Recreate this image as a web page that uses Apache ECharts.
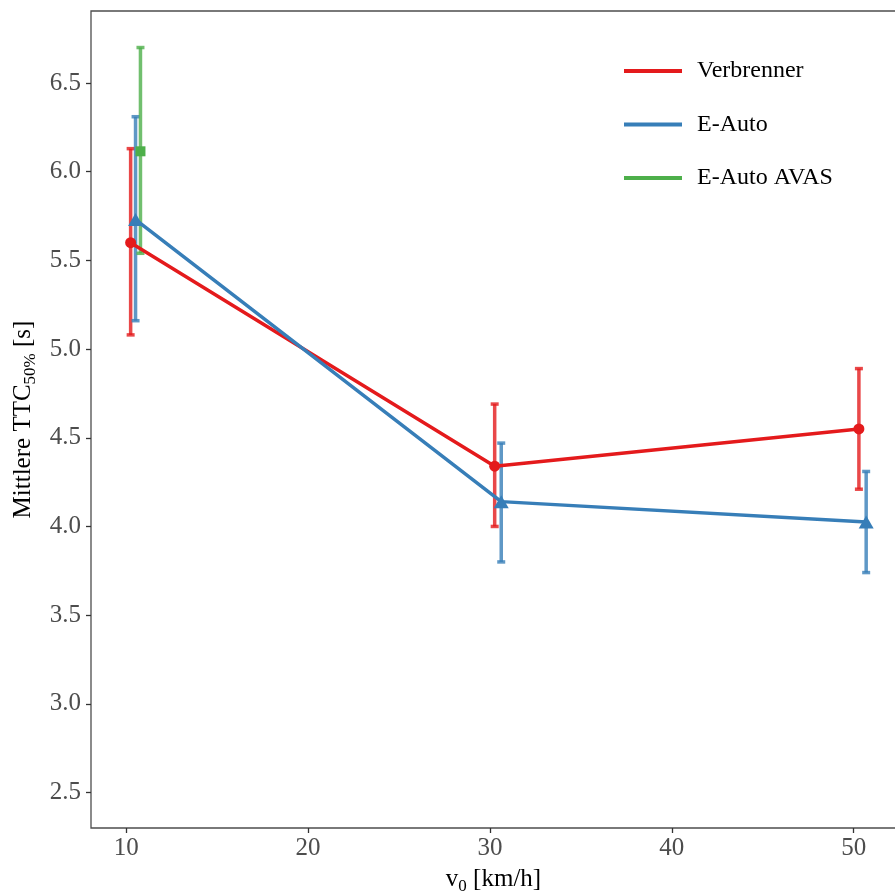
<!DOCTYPE html>
<html>
<head>
<meta charset="utf-8">
<script src="https://cdn.jsdelivr.net/npm/echarts@6/dist/echarts.min.js"></script>
<style>
  html, body { margin: 0; padding: 0; background: #fff; }
  #chart { width: 895px; height: 893px; }
</style>
</head>
<body>
<div id="chart"></div>
<script>
// data
const seriesNames = ['Verbrenner', 'E-Auto', 'E-Auto AVAS']

const xVerb = [10.24, 30.26, 50.29]
const yVerb = [5.60, 4.34, 4.55]
const loVerb = [5.08, 4.00, 4.21]
const hiVerb = [6.13, 4.69, 4.89]

const xEAuto = [10.51, 30.62, 50.69]
const yEAuto = [5.73, 4.14, 4.025]
const loEAuto = [5.16, 3.80, 3.74]
const hiEAuto = [6.31, 4.47, 4.31]

const xAvas = [10.78]
const yAvas = [6.115]
const loAvas = [5.54]
const hiAvas = [6.70]

const xTicks = [10, 20, 30, 40, 50]
const yTicks = [2.5, 3.0, 3.5, 4.0, 4.5, 5.0, 5.5, 6.0, 6.5]

const colors = ['#E41A1C', '#377EB8', '#4DAF4A']
const font = '"Liberation Serif", "DejaVu Serif", serif'

function zip2(xs, ys) { return xs.map((x, i) => [x, ys[i]]) }
function zip3(xs, lo, hi) { return xs.map((x, i) => [x, lo[i], hi[i]]) }

function errorItem(params, api) {
    const x = api.value(0)
    const lo = api.coord([x, api.value(1)])
    const hi = api.coord([x, api.value(2)])
    const w = 4
    const style = { stroke: api.visual('color'), lineWidth: 3.5, opacity: 0.8 }
    return {
        type: 'group',
        children: [
            { type: 'line', shape: { x1: lo[0], y1: lo[1], x2: hi[0], y2: hi[1] }, style },
            { type: 'line', shape: { x1: lo[0] - w, y1: lo[1], x2: lo[0] + w, y2: lo[1] }, style },
            { type: 'line', shape: { x1: hi[0] - w, y1: hi[1], x2: hi[0] + w, y2: hi[1] }, style }
        ]
    }
}

function errSeries(name, color, data) {
    return { name, type: 'custom', renderItem: errorItem, itemStyle: { color }, data, z: 1, silent: true }
}

function lineSeries(name, color, data, symbol, size) {
    return {
        name, type: 'line', data, symbol, symbolSize: size,
        itemStyle: { color }, lineStyle: { color, width: 3.5 }, z: 3, silent: true
    }
}

const nameStyle = {
    fontFamily: font, fontSize: 25, color: '#000', lineHeight: 28, verticalAlign: 'top',
    rich: { sub: { fontFamily: font, fontSize: 17, lineHeight: 17, padding: [12, 0, 0, 0], verticalAlign: 'top', color: '#000' } }
}

const chart = echarts.init(document.getElementById('chart'))
chart.setOption({
    animation: false,
    backgroundColor: '#fff',
    color: colors,
    grid: {
        left: 91, right: -1, top: 11, bottom: 65, outerBoundsMode: 'none',
        show: true, borderColor: '#4d4d4d', borderWidth: 1.3, backgroundColor: 'transparent'
    },
    legend: {
        orient: 'vertical', left: 619, top: 54,
        data: seriesNames.map(n => ({ name: n, icon: 'rect' })),
        itemWidth: 58, itemHeight: 4, itemGap: 29.5,
        textStyle: { fontFamily: font, fontSize: 24, color: '#000', lineHeight: 24, padding: [0, 0, 0, 10] }
    },
    xAxis: {
        type: 'value', min: 8.06, max: 52.33,
        name: 'v{sub|0} [km/h]', nameLocation: 'middle', nameGap: 37,
        nameTextStyle: nameStyle,
        splitLine: { show: false },
        axisLine: { show: false },
        axisTick: { show: true, length: 5, lineStyle: { color: '#333', width: 1.3 }, customValues: xTicks },
        axisLabel: { fontFamily: font, fontSize: 25, color: '#4d4d4d', margin: 8, customValues: xTicks }
    },
    yAxis: {
        type: 'value', min: 2.3, max: 6.906,
        name: 'Mittlere TTC{sub|50%} [s]', nameLocation: 'middle', nameGap: 68,
        nameTextStyle: nameStyle,
        splitLine: { show: false },
        axisLine: { show: false },
        axisTick: { show: true, length: 5, lineStyle: { color: '#333', width: 1.3 }, customValues: yTicks },
        axisLabel: { fontFamily: font, fontSize: 25, color: '#4d4d4d', margin: 10, customValues: yTicks, formatter: v => v.toFixed(1) }
    },
    series: [
        errSeries('Verbrenner', colors[0], zip3(xVerb, loVerb, hiVerb)),
        errSeries('E-Auto', colors[1], zip3(xEAuto, loEAuto, hiEAuto)),
        errSeries('E-Auto AVAS', colors[2], zip3(xAvas, loAvas, hiAvas)),
        lineSeries('Verbrenner', colors[0], zip2(xVerb, yVerb), 'circle', 11),
        lineSeries('E-Auto', colors[1], zip2(xEAuto, yEAuto), 'triangle', [15, 13]),
        lineSeries('E-Auto AVAS', colors[2], zip2(xAvas, yAvas), 'rect', 10)
    ]
})
</script>
</body>
</html>
